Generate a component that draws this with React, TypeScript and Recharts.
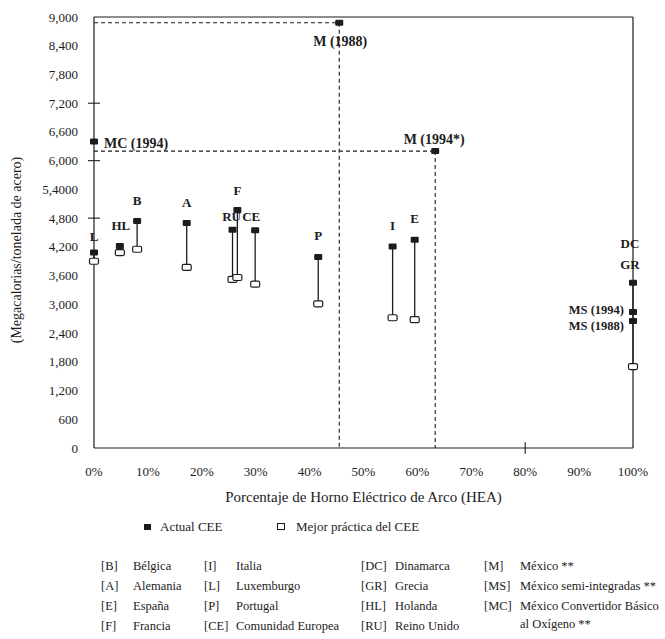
import React from "react";
import { ReferenceLine, Scatter, ScatterChart, XAxis, YAxis } from "recharts";

// EU countries: % electric arc furnace vs. energy use (Mcal / t steel)
const countryCodes = ["L", "HL", "B", "A", "RU", "F", "CE", "P", "I", "E", "DC/GR"];
const countryHea = [0, 4.8, 8.0, 17.2, 25.7, 26.6, 29.9, 41.6, 55.4, 59.5, 100];
const actualValues = [4080, 4220, 4740, 4700, 4560, 4970, 4545, 3990, 4210, 4350, 3450];
const bestValues = [3900, 4080, 4150, 3770, 3520, 3560, 3420, 3010, 2720, 2680, 1700];

// Mexico
const mexicoLabels = ["M (1988)", "M (1994*)", "MC (1994)", "MS (1994)", "MS (1988)"];
const mexicoHea = [45.5, 63.3, 0, 100, 100];
const mexicoValues = [8880, 6200, 6400, 2840, 2650];

const yTicks = [0, 600, 1200, 1800, 2400, 3000, 3600, 4200, 4800, 5400, 6000, 6600, 7200, 7800, 8400, 9000];
const yTickLabels = ["0", "600", "1,200", "1,800", "2,400", "3,000", "3,600", "4,200", "4,800", "5,4000", "6,000", "6,600", "7,200", "7,800", "8,400", "9,000"];
const xTicks = [0, 10, 20, 30, 40, 50, 60, 70, 80, 90, 100];
const xTickLabels = ["0%", "10%", "20%", "30%", "40%", "50%", "60%", "70%", "80%", "90%", "100%"];

const keyCodes = [
  ["[B]", "[A]", "[E]", "[F]"],
  ["[I]", "[L]", "[P]", "[CE]"],
  ["[DC]", "[GR]", "[HL]", "[RU]"],
  ["[M]", "[MS]", "[MC]"],
];
const keyNames = [
  ["Bélgica", "Alemania", "España", "Francia"],
  ["Italia", "Luxemburgo", "Portugal", "Comunidad Europea"],
  ["Dinamarca", "Grecia", "Holanda", "Reino Unido"],
  ["México **", "México semi-integradas **", "México Convertidor Básico", "al Oxígeno **"],
];

const INK = "#1c1c1c";
const FONT = "'Liberation Serif', 'Times New Roman', serif";
const crossY = [4800, 6000, 7200];
const crossX = [80];

type LabelPos = { text: string; dx: number; dy: number; anchor?: "start" | "middle" | "end" };
const labelLayout: Record<string, LabelPos[]> = {
  L: [{ text: "L", dx: 0, dy: -16 }],
  HL: [{ text: "HL", dx: 1, dy: -20 }],
  B: [{ text: "B", dx: 0, dy: -21 }],
  A: [{ text: "A", dx: 0, dy: -20 }],
  RU: [{ text: "RU", dx: -1, dy: -13 }],
  F: [{ text: "F", dx: 0, dy: -19 }],
  CE: [{ text: "CE", dx: -4, dy: -14 }],
  P: [{ text: "P", dx: 0, dy: -21 }],
  I: [{ text: "I", dx: 0, dy: -21 }],
  E: [{ text: "E", dx: 0, dy: -21 }],
  "DC/GR": [
    { text: "DC", dx: -3, dy: -39 },
    { text: "GR", dx: -3, dy: -18 },
  ],
  "M (1988)": [{ text: "M (1988)", dx: 1, dy: 19 }],
  "M (1994*)": [{ text: "M (1994*)", dx: -1, dy: -12 }],
  "MC (1994)": [{ text: "MC (1994)", dx: 10, dy: 2, anchor: "start" }],
  "MS (1994)": [{ text: "MS (1994)", dx: -9, dy: -2, anchor: "end" }],
  "MS (1988)": [{ text: "MS (1988)", dx: -9, dy: 5, anchor: "end" }],
};

const actualPoints = countryCodes.map((c, i) => ({ x: countryHea[i], y: actualValues[i], label: c }));
const bestPoints = countryCodes.map((c, i) => ({ x: countryHea[i], y: bestValues[i], label: c }));
const mexicoPoints = mexicoLabels.map((l, i) => ({ x: mexicoHea[i], y: mexicoValues[i], label: l }));

function PointLabels({ cx, cy, label, size }: any) {
  const items = labelLayout[label] || [];
  return (
    <>
      {items.map((it) => (
        <text
          key={it.text}
          x={cx + it.dx}
          y={cy + it.dy}
          textAnchor={it.anchor || "middle"}
          dominantBaseline="central"
          fontFamily={FONT}
          fontWeight="bold"
          fontSize={size}
          fill={INK}
        >
          {it.text}
        </text>
      ))}
    </>
  );
}

function ActualMark(props: any) {
  const { cx, cy, payload } = props;
  const long = payload.label.length > 5;
  const size = payload.label.startsWith("MS") ? 12.5 : long ? 14 : 13;
  return (
    <g>
      <rect x={cx - 4} y={cy - 3} width={8} height={6} rx={1} fill={INK} />
      <PointLabels cx={cx} cy={cy} label={payload.label} size={size} />
    </g>
  );
}

function BestMark(props: any) {
  const { cx, cy } = props;
  return <rect x={cx - 4.5} y={cy - 3} width={9} height={6} rx={1.5} fill="#fff" stroke={INK} strokeWidth={1.2} />;
}

function YTick({ x, y, payload }: any) {
  const label = yTickLabels[yTicks.indexOf(payload.value)];
  return (
    <g>
      {crossY.includes(payload.value) && <line x1={x - 6} x2={x + 6} y1={y} y2={y} stroke={INK} strokeWidth={1.1} />}
      <text x={x - 16} y={y} textAnchor="end" dominantBaseline="central" fontFamily={FONT} fontSize={13} fill={INK}>
        {label}
      </text>
    </g>
  );
}

function XTick({ x, y, payload }: any) {
  const label = xTickLabels[xTicks.indexOf(payload.value)];
  return (
    <g>
      {crossX.includes(payload.value) && <line x1={x} x2={x} y1={y - 6} y2={y + 6} stroke={INK} strokeWidth={1.1} />}
      <text x={x} y={y + 23} textAnchor="middle" dominantBaseline="central" fontFamily={FONT} fontSize={13} fill={INK}>
        {label}
      </text>
    </g>
  );
}

export default function App() {
  const text = { position: "absolute" as const, fontFamily: FONT, color: INK, whiteSpace: "nowrap" as const, lineHeight: "16px" };
  const rowY = [566, 586, 606, 626];
  const codeX = [101, 204, 361, 484];
  const nameX = [133, 236, 395, 520];

  return (
    <div style={{ position: "absolute", left: 0, top: 0, width: 665, height: 639, background: "#fff" }}>
      <ScatterChart width={665} height={639} margin={{ top: 17, right: 32, bottom: 161, left: 0 }}>
        <XAxis
          type="number"
          dataKey="x"
          domain={[0, 100]}
          ticks={xTicks}
          tick={<XTick />}
          tickLine={false}
          tickSize={0}
          tickMargin={0}
          height={30}
          stroke={INK}
          strokeWidth={1.2}
        />
        <YAxis
          type="number"
          dataKey="y"
          domain={[0, 9000]}
          ticks={yTicks}
          tick={<YTick />}
          tickLine={false}
          tickSize={0}
          tickMargin={0}
          width={94}
          stroke={INK}
          strokeWidth={1.2}
        />
        <ReferenceLine y={9000} stroke={INK} strokeWidth={1.2} />
        <ReferenceLine x={100} stroke={INK} strokeWidth={1.2} />

        {/* Mexico reference guides */}
        <ReferenceLine segment={[{ x: 0, y: mexicoValues[0] }, { x: mexicoHea[0], y: mexicoValues[0] }]} stroke={INK} strokeDasharray="4 3" strokeWidth={1.1} />
        <ReferenceLine segment={[{ x: mexicoHea[0], y: mexicoValues[0] }, { x: mexicoHea[0], y: 0 }]} stroke={INK} strokeDasharray="4 3" strokeWidth={1.1} />
        <ReferenceLine segment={[{ x: 0, y: mexicoValues[1] }, { x: mexicoHea[1], y: mexicoValues[1] }]} stroke={INK} strokeDasharray="4 3" strokeWidth={1.1} />
        <ReferenceLine segment={[{ x: mexicoHea[1], y: mexicoValues[1] }, { x: mexicoHea[1], y: 0 }]} stroke={INK} strokeDasharray="4 3" strokeWidth={1.1} />

        {countryCodes.map((c, i) => (
          <ReferenceLine
            key={c}
            segment={[{ x: countryHea[i], y: actualValues[i] }, { x: countryHea[i], y: bestValues[i] }]}
            stroke={INK}
            strokeWidth={1.3}
          />
        ))}

        <Scatter name="Mejor práctica del CEE" data={bestPoints} shape={<BestMark />} isAnimationActive={false} />
        <Scatter name="Actual CEE" data={actualPoints} shape={<ActualMark />} isAnimationActive={false} />
        <Scatter name="México" data={mexicoPoints} shape={<ActualMark />} isAnimationActive={false} />
      </ScatterChart>

      <svg style={{ position: "absolute", left: 0, top: 0 }} width={40} height={460}>
        <text
          x={16}
          y={250}
          transform="rotate(-90 16 250)"
          textAnchor="middle"
          dominantBaseline="central"
          fontFamily={FONT}
          fontSize={14}
          fill={INK}
        >
          (Megacalorias/tonelada de acero)
        </text>
      </svg>

      <div style={{ ...text, left: 0, width: 727, top: 489, textAlign: "center", fontSize: 15 }}>
        Porcentaje de Horno Eléctrico de Arco (HEA)
      </div>

      {/* legend */}
      <div style={{ position: "absolute", left: 144, top: 524, width: 7, height: 6, background: INK }} />
      <div style={{ ...text, left: 160, top: 519, fontSize: 13 }}>Actual CEE</div>
      <div style={{ position: "absolute", left: 277, top: 523, width: 6, height: 5, border: `1px solid ${INK}` }} />
      <div style={{ ...text, left: 296, top: 519, fontSize: 13 }}>Mejor práctica del CEE</div>

      {/* key */}
      {keyCodes.map((col, ci) =>
        col.map((code, ri) => (
          <div key={code} style={{ ...text, left: codeX[ci], top: rowY[ri] - 8, fontSize: 12.5 }}>
            {code}
          </div>
        ))
      )}
      {keyNames.map((col, ci) =>
        col.map((name, ri) => (
          <div key={name} style={{ ...text, left: nameX[ci], top: rowY[ri] - 8 - (ci === 3 && ri === 3 ? 2 : 0), fontSize: 12.5 }}>
            {name}
          </div>
        ))
      )}
    </div>
  );
}
